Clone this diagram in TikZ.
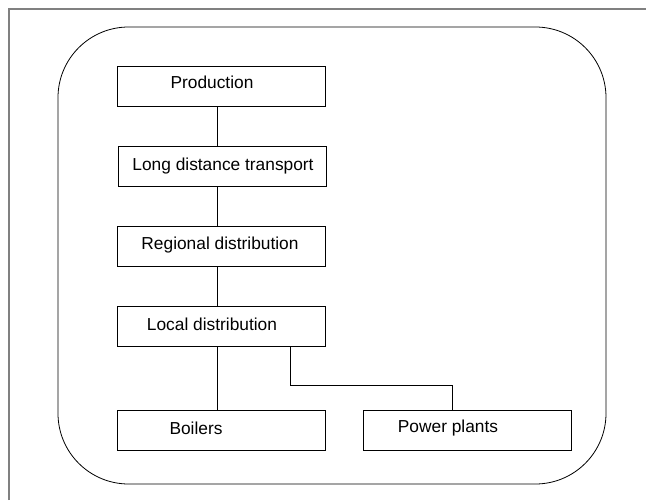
\documentclass[tikz,border=0pt]{standalone}
\usepackage{fontspec}
\setmainfont{Liberation Sans}
\usepackage{tikz}

\tikzset{
  stage/.style={draw,line width=0.6pt,minimum width=156pt,minimum height=30pt,inner sep=0pt},
  caption/.style={font=\fontsize{13}{15}\selectfont,inner sep=0pt}
}

\begin{document}
\begin{tikzpicture}[x=0.75pt,y=-0.75pt,line width=0.6pt]
\useasboundingbox (0,0) rectangle (646,500);
\draw[gray,line width=0.9pt] (9,500) -- (9,9) -- (646,9);
\draw[rounded corners=53pt] (58,27) rectangle (606,484);

\node[stage] (prod) at (221.5,86.5) {};
\node[stage] (ldt) at (222,166) {};
\node[stage] (reg) at (221,246) {};
\node[stage] (loc) at (221,326) {};
\node[stage] (boil) at (221,430) {};
\node[stage] (plant) at (467.5,430) {};

\node[caption] (tprod) at (212,82) {Production};
\node[caption] (tldt) at (223,166) {Long distance transport};
\node[caption] (treg) at (220,245) {Regional distribution};
\node[caption] (tloc) at (212,324) {Local distribution};
\node[caption] (tboil) at (196,428) {Boilers};
\node[caption] (tplant) at (448,428) {Power plants};

\coordinate (spine) at (217,0);
\coordinate (tap) at (290,385);
\coordinate (drop) at (452,410);
\draw (prod.south -| spine) -- (ldt.north -| spine);
\draw (ldt.south -| spine) -- (reg.north -| spine);
\draw (reg.south -| spine) -- (loc.north -| spine);
\draw (loc.south -| spine) -- (boil.north -| spine);
\draw (loc.south -| tap) -- (tap) -| (drop);
\end{tikzpicture}
\end{document}
